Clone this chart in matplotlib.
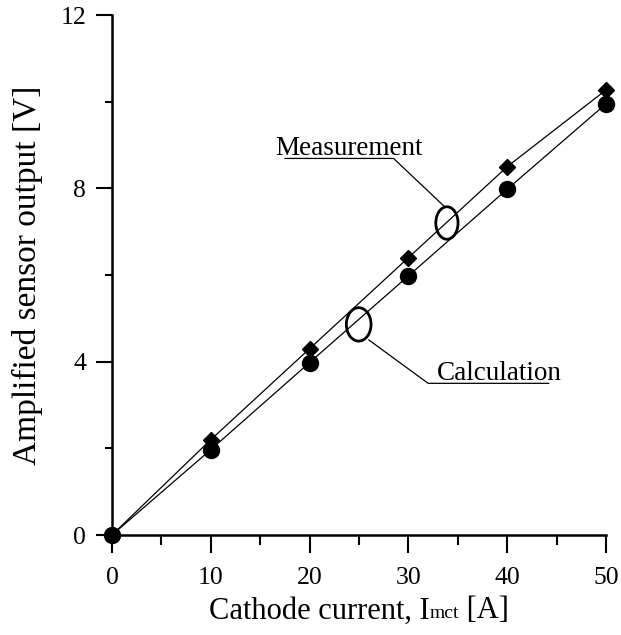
import numpy as np
import matplotlib.pyplot as plt
from matplotlib.patches import Ellipse
from matplotlib.offsetbox import TextArea, HPacker, AnnotationBbox

plt.rcParams['font.family'] = ['Liberation Serif', 'DejaVu Serif']

#cathode current [A]
current = [0, 10, 20, 30, 40, 50]
#amplified sensor output [V]
measurement = [0, 2.2, 4.3, 6.4, 8.5, 10.27]
calculation = [0, 1.97, 3.98, 5.98, 7.98, 9.95]

x_ticks = [0, 10, 20, 30, 40, 50]
y_ticks = [0, 4, 8, 12]

fig = plt.figure(figsize=(6.21, 6.35), dpi=100)
ax = fig.add_axes([112/621, 1 - 535/635, 494/621, 520/635])

#lines first, then the markers on top
ax.plot(current, measurement, color="black", lw=0.9, clip_on=False)
ax.plot(current, calculation, color="black", lw=0.9, clip_on=False)
ax.plot(current, calculation, "o", color="black", ms=11.5, clip_on=False, zorder=4)
ax.plot(current, measurement, "D", color="black", ms=8.5, clip_on=False, zorder=4)

#ellipses marking which line is which
ax.add_patch(Ellipse((33.9, 7.2), 2.25, 0.75, fill=False, lw=2, color="black", zorder=5))
ax.add_patch(Ellipse((24.97, 4.86), 2.5, 0.77, fill=False, lw=2, color="black", zorder=5))

#leader lines with underline
ax.plot([33.6, 28.5, 17.5], [7.59, 8.69, 8.69], color="black", lw=0.9)
ax.plot([26.0, 32.0, 44.2], [4.50, 3.50, 3.50], color="black", lw=0.9)
ax.text(16.5, 8.78, "Measurement", fontsize=19.5, ha="left", va="baseline")
ax.text(32.9, 3.58, "Calculation", fontsize=19.5, ha="left", va="baseline")

ax.set_xlim(0, 50)
ax.set_ylim(0, 12)
ax.set_xticks(x_ticks)
ax.set_yticks(y_ticks)
ax.set_xticks(np.arange(5, 50, 10), minor=True)
ax.set_yticks([2, 6, 10], minor=True)

ax.spines["top"].set_visible(False)
ax.spines["right"].set_visible(False)
ax.spines["left"].set_linewidth(1.8)
ax.spines["bottom"].set_linewidth(1.8)

ax.tick_params(axis="x", which="major", direction="out", length=13, width=1.5, pad=10, labelsize=18.5)
ax.tick_params(axis="x", which="minor", direction="out", length=7, width=1.5)
ax.tick_params(axis="y", which="major", direction="out", length=11.5, width=1.5, pad=7, labelsize=18.5)
ax.tick_params(axis="y", which="minor", direction="out", length=5, width=1.5)

#x label: small "mct" sits on the baseline after the I
xlab = HPacker(children=[TextArea("Cathode current, I", textprops=dict(fontsize=22)),
                         TextArea("mct", textprops=dict(fontsize=14)),
                         TextArea(" [A]", textprops=dict(fontsize=22))],
               align="baseline", pad=0, sep=0)
ax.add_artist(AnnotationBbox(xlab, (0.5, -0.118), xycoords="axes fraction",
                             box_alignment=(0.5, 1), frameon=False, annotation_clip=False))

ax.set_ylabel("Amplified sensor output [V]", fontsize=24)
ax.yaxis.set_label_coords(-0.14, 0.5)

fig.savefig("out.png", dpi=100)
